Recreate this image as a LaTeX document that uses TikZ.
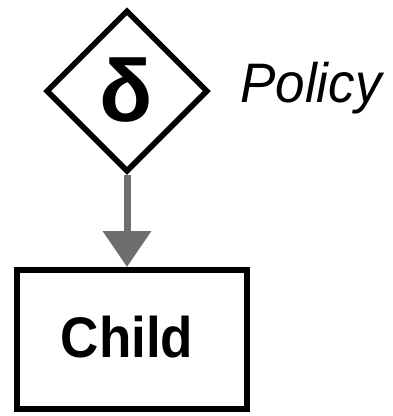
\documentclass[tikz,border=0pt]{standalone}
\usepackage{fontspec}
\setmainfont{Liberation Sans}
\usetikzlibrary{shapes.geometric,arrows.meta}
\definecolor{arrowgray}{HTML}{6E6E6E}
\tikzset{
  decision/.style={draw=black, line width=5.5pt, diamond, inner sep=0pt,
    minimum width=162pt, minimum height=162pt, fill=white},
  leafbox/.style={draw=black, line width=6pt, rectangle, inner sep=0pt,
    minimum width=230pt, minimum height=139pt, fill=white},
  flow/.style={draw=arrowgray, line width=7pt,
    -{Triangle[width=47pt,length=36pt]}},
}
\begin{document}
\begin{tikzpicture}[x=1pt,y=1pt]
  \useasboundingbox (0,0) rectangle (392,-416);
  \node[decision] (policy) at (127,-91) {};
  \node (delta) at (126,-90) {\fontsize{88}{96}\selectfont\bfseries δ};
  \node[anchor=base west, inner sep=0pt] (policylabel) at (240,-102)
    {\scalebox{1}[1.05]{\fontsize{53}{60}\selectfont\itshape Policy}};
  \node[leafbox] (child) at (132,-339.5) {};
  \node (childlabel) at (127,-337)
    {\scalebox{1}[1.08]{\fontsize{53}{60}\selectfont\bfseries Child}};
  \draw[flow] (policy.south) -- (child.north -| policy.south);
\end{tikzpicture}
\end{document}
